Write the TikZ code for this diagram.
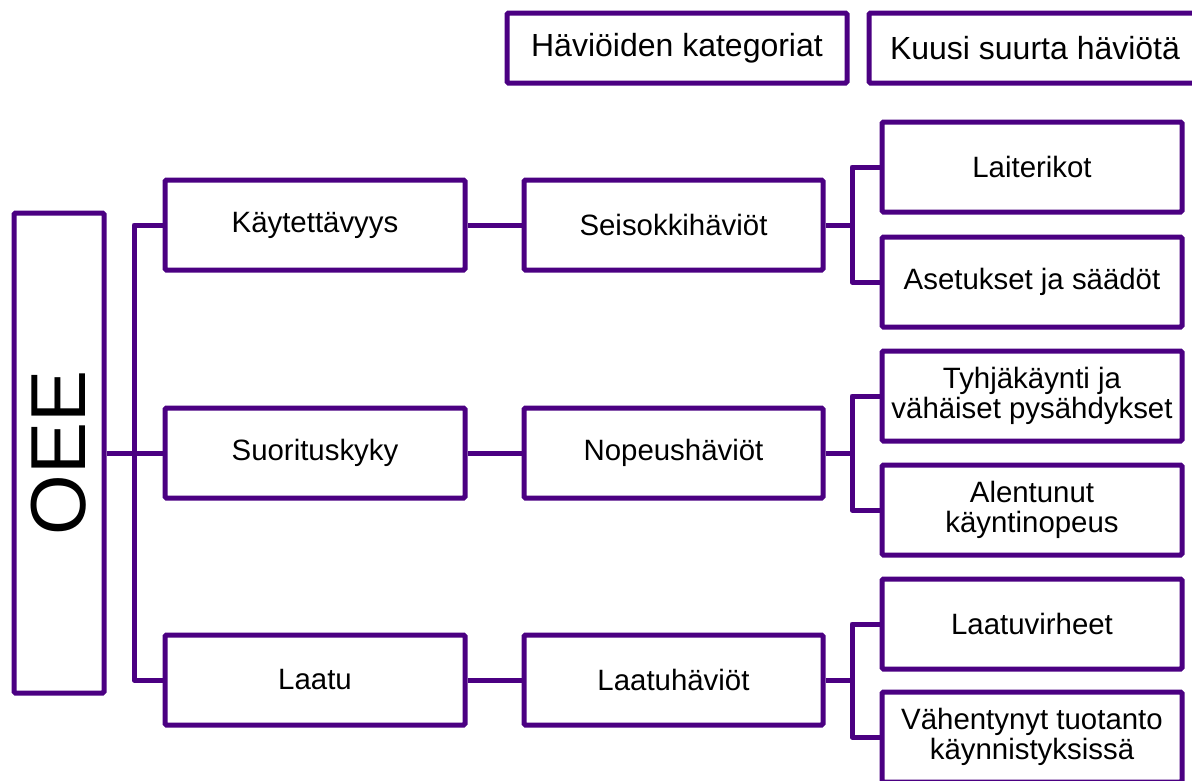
\documentclass[tikz,border=0pt]{standalone}
\usepackage{fontspec}
\setmainfont{Liberation Sans}
\definecolor{ind}{RGB}{75,0,130}
\begin{document}
\begin{tikzpicture}[x=1pt,y=-1pt,
  box/.style={draw=ind, line width=5pt, rounded corners=1.5pt, fill=white,
    minimum width=300pt, minimum height=90pt, align=center, inner sep=0pt,
    font=\fontsize{29.4}{30.5}\selectfont, text=black},
  hbox/.style={box, minimum height=70pt, font=\fontsize{32}{34}\selectfont},
  conn/.style={draw=ind, line width=5pt, line join=round}]
\useasboundingbox (0,0) rectangle (1192,780);
\clip (0,0) rectangle (1192,780);
% header
\node[hbox, minimum width=340pt] (hd1) at (677,48) {Häviöiden kategoriat};
\node[hbox, minimum width=332pt] (hd2) at (1035,48) {Kuusi suurta häviötä};
% OEE
\node[box, minimum width=90pt, minimum height=480pt] (oee) at (59,453) {};
\node[rotate=90, font=\fontsize{78}{78}\selectfont, text=black] (oeet) at (oee.center) {OEE};
% level 1
\node[box] (k1) at (315,225) {Käytettävyys};
\node[box] (k2) at (315,453) {Suorituskyky};
\node[box] (k3) at (315,680) {Laatu};
% level 2
\node[box, minimum width=299pt] (h1) at (673.5,225) {Seisokkihäviöt};
\node[box, minimum width=299pt] (h2) at (673.5,453) {Nopeushäviöt};
\node[box, minimum width=299pt] (h3) at (673.5,680) {Laatuhäviöt};
% level 3
\node[box] (s1) at (1032,167) {Laiterikot};
\node[box] (s2) at (1032,282) {Asetukset ja säädöt};
\node[box] (s3) at (1032,396) {Tyhjäkäynti ja\\vähäiset pysähdykset};
\node[box] (s4) at (1032,510) {Alentunut\\käyntinopeus};
\node[box] (s5) at (1032,624) {Laatuvirheet};
\node[box] (s6) at (1032,737) {Vähentynyt tuotanto\\käynnistyksissä};
% connectors
\coordinate (j0) at (134,453);
\draw[conn] (oee.east) -- (j0);
\draw[conn] (k1.west) -| (j0);
\draw[conn] (k3.west) -| (j0);
\draw[conn] (k2.west) -- (j0);
\draw[conn] (k1) -- (h1);
\draw[conn] (k2) -- (h2);
\draw[conn] (k3) -- (h3);
\coordinate (j1) at (852,225);
\coordinate (j2) at (852,453);
\coordinate (j3) at (852,680);
\draw[conn] (h1.east) -- (j1);
\draw[conn] (s1.west) -| (j1);
\draw[conn] (s2.west) -| (j1);
\draw[conn] (h2.east) -- (j2);
\draw[conn] (s3.west) -| (j2);
\draw[conn] (s4.west) -| (j2);
\draw[conn] (h3.east) -- (j3);
\draw[conn] (s5.west) -| (j3);
\draw[conn] (s6.west) -| (j3);
\end{tikzpicture}
\end{document}
